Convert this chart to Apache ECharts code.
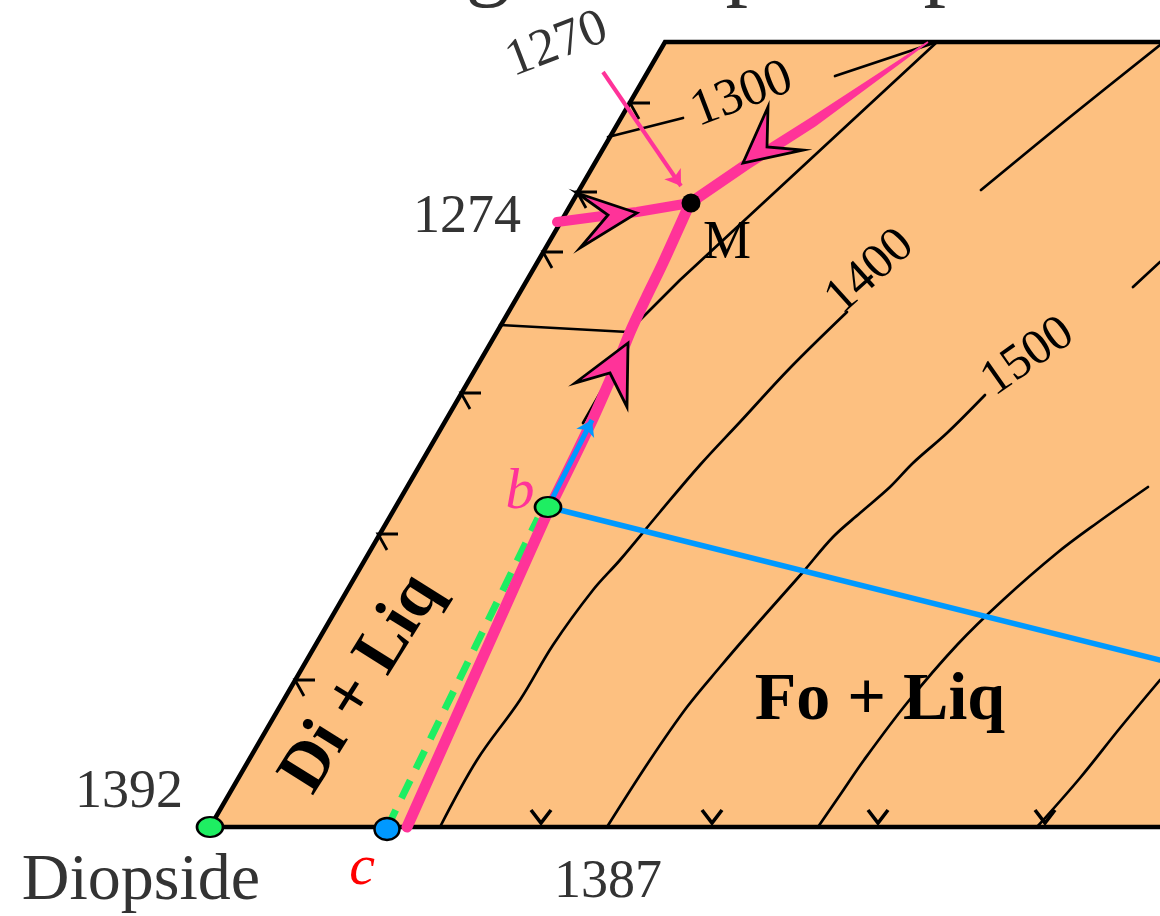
<!DOCTYPE html>
<html>
<head>
<meta charset="utf-8">
<script src="https://cdn.jsdelivr.net/npm/echarts@6/dist/echarts.min.js"></script>
<style>
html,body{margin:0;padding:0;background:#fff;}
#chart{width:1160px;height:916px;}
</style>
</head>
<body>
<div id="chart"></div>
<script>
// ---------- data (diagram coordinates) ----------
const fieldOutline = [[210,827],[665,42],[1160,42],[1160,827]];
const frameEdges   = [[1160,827],[210,827],[665,42],[1160,42]];

const iso1400a = [[440,827],[477,760],[520,700],[553,645],[593,590],[620,560],[660,512],[700,465],[740,422],[790,368],[847,312]];
const iso1400b = [[981,190],[1070,117],[1160,45]];
const iso1500a = [[607,827],[650,760],[687,707],[720,667],[750,632],[780,598],[803,572],[833,537],[860,513],[890,487],[913,463],[947,433],[985,395]];
const iso1500b = [[1133,287],[1160,262]];
const iso1600  = [[818,827],[840,795],[864,760],[907,703],[957,645],[1003,600],[1057,553],[1097,523],[1148,487]];
const iso1700  = [[1037,827],[1080,778],[1120,728],[1160,680]];
const isoFo1300 = [[937,42],[680,280],[628,332],[500,325]];
const isoAn1300a = [[608,137],[683,118]];
const isoAn1300b = [[835,76],[937,42]];
const shortTie = [[583,423],[603,388]];

const cotecticDiFoLow = [[407,827],[550,507]];
const cotecticDiFoUp  = [[550,507],[590,425],[620,357],[631,330],[646,298],[662,265],[677,232],[690,203]];
const cotecticDiAn = [[557,222],[610,215],[637,212],[690,203]];
const cotecticFoAn = [[690,203],[747,164],[813,122],[928,42]];
const foAnHalfWidth = [5.5, 5.5, 5, 0.8];

const chevrons = [
  [[637,213],[577,193],[608,215],[580,248]],
  [[628,343],[575,383],[610,373],[627,407]],
  [[743,163],[768,107],[767,147],[803,150]]
];

const tieLine = [[548,507],[1160,660]];
const greenPath = [[387,828],[538,518]];
const blueArrow = [[548,507],[592,420]];
const pointer1270 = [[603,72],[681,186]];

const leftTicks = [[630,103],[577,192],[543,252],[461,393],[378,534],[295,680]];
const bottomTicks = [[541,825],[712,825],[878,825],[1045,825]];

const pointDi = [210,827];
const pointB  = [548,507];
const pointC  = [387,829];
const pointM  = [691,203];

const labelTexts   = ['1270','1300','1274','M','1400','1500','b','c','Di + Liq','Fo + Liq','1392','Diopside','1387','g','p','p'];
const labelAnchors = [[557,45],[742,95],[467,218],[727,244],[870,272],[1028,357],[520,493],[362,869],[362,684],[880,701],[129,793],[141,882],[608,883],[488,-35],[748,-35],[946,-35]];

// ---------- styles (not data) ----------
const SERIF = '"Liberation Serif","DejaVu Serif",serif';
const PINK = '#ff3399', BLUE = '#0099ff', GREEN = '#1eee62', FILL = '#fdc080';
const labelStyles = [
  {color:'#333', fontSize:52, rotate:21},
  {color:'#000', fontSize:52, rotate:21},
  {color:'#333', fontSize:54},
  {color:'#000', fontSize:54},
  {color:'#000', fontSize:50, rotate:42},
  {color:'#000', fontSize:50, rotate:35},
  {color:PINK, fontSize:58, fontStyle:'italic'},
  {color:'#ff0000', fontSize:58, fontStyle:'italic'},
  {color:'#000', fontSize:68, fontWeight:'bold', rotate:58},
  {color:'#000', fontSize:68, fontWeight:'bold'},
  {color:'#333', fontSize:54},
  {color:'#333', fontSize:66},
  {color:'#333', fontSize:54},
  {color:'#333', fontSize:90},
  {color:'#333', fontSize:90},
  {color:'#333', fontSize:90}
];

function lineSeries(data, color, width, extra) {
  return Object.assign({
    type:'line', data:data, symbol:'none', silent:true, clip:false,
    lineStyle:{color:color, width:width, cap:'round', join:'round', opacity:1}, z:2
  }, extra || {});
}

const chart = echarts.init(document.getElementById('chart'), null, {renderer:'canvas'});

const series = [];
// field fill
series.push({
  type:'custom', silent:true, z:0, data:[0], clip:false,
  renderItem:function(params, api){
    return {type:'polygon', shape:{points: fieldOutline.map(p=>api.coord(p))}, style:{fill:FILL}};
  }
});
// isotherms
[iso1400a, iso1400b, iso1500a, iso1500b, iso1600, iso1700].forEach(d=>{
  series.push(lineSeries(d, '#000', 2.7, {z:2, smooth:0.35}));
});
[isoFo1300, isoAn1300a, isoAn1300b, shortTie].forEach(d=>{
  series.push(lineSeries(d, '#000', 2.7, {z:2}));
});
// frame
series.push(lineSeries(frameEdges, '#000', 4.5, {z:3, lineStyle:{color:'#000', width:4.5, join:'miter', opacity:1}}));
// ticks
series.push({
  type:'custom', silent:true, z:3, data:leftTicks, clip:false,
  renderItem:function(params, api){
    const p = api.coord([api.value(0), api.value(1)]);
    return {type:'polyline', shape:{points:[[p[0]+20,p[1]],[p[0],p[1]],[p[0]+9,p[1]+16]]},
      style:{stroke:'#000', lineWidth:2.8, fill:null}};
  }
});
series.push({
  type:'custom', silent:true, z:3, data:bottomTicks, clip:false,
  renderItem:function(params, api){
    const p = api.coord([api.value(0), api.value(1)]);
    return {type:'polyline', shape:{points:[[p[0]-10,p[1]-15],[p[0],p[1]-2],[p[0]+10,p[1]-15]]},
      style:{stroke:'#000', lineWidth:3.6, fill:null}};
  }
});
// blue tie line
series.push(lineSeries(tieLine, BLUE, 5.5, {z:4}));
// green dashed
series.push(lineSeries(greenPath, GREEN, 7, {z:4, lineStyle:{color:GREEN, width:7, type:[20,13], opacity:1}}));
// pink cotectics
series.push(lineSeries(cotecticDiFoLow, PINK, 11, {z:5}));
series.push(lineSeries(cotecticDiFoUp, PINK, 11, {z:5, smooth:0.3}));
series.push(lineSeries(cotecticDiAn, PINK, 10, {z:5}));
// tapered Fo-An cotectic
series.push({
  type:'custom', silent:true, z:5, data:[0], clip:false,
  renderItem:function(params, api){
    const pts = cotecticFoAn.map(p=>api.coord(p));
    const left = [], right = [];
    for (let i=0;i<pts.length;i++){
      const a = pts[Math.max(0,i-1)], b = pts[Math.min(pts.length-1,i+1)];
      let dx = b[0]-a[0], dy = b[1]-a[1]; const L = Math.hypot(dx,dy); dx/=L; dy/=L;
      const w = foAnHalfWidth[i];
      left.push([pts[i][0]-dy*w, pts[i][1]+dx*w]);
      right.push([pts[i][0]+dy*w, pts[i][1]-dx*w]);
    }
    return {type:'polygon', shape:{points:left.concat(right.reverse())}, style:{fill:PINK}};
  }
});
// chevron arrowheads
series.push({
  type:'custom', silent:true, z:6, data:chevrons.map((c,i)=>i), clip:false,
  renderItem:function(params, api){
    const pts = chevrons[params.dataIndex].map(p=>api.coord(p));
    return {type:'polygon', shape:{points:pts}, style:{fill:PINK, stroke:'#000', lineWidth:2.8, lineJoin:'miter'}};
  }
});
// arrows (blue and 1270 pointer)
series.push({
  type:'lines', coordinateSystem:'cartesian2d', silent:true, z:6,
  symbol:['none','arrow'], symbolSize:15,
  lineStyle:{color:BLUE, width:5, opacity:1, curveness:0},
  data:[{coords:blueArrow}]
});
series.push({
  type:'lines', coordinateSystem:'cartesian2d', silent:true, z:6,
  symbol:['none','arrow'], symbolSize:15,
  lineStyle:{color:PINK, width:4, opacity:1, curveness:0},
  data:[{coords:pointer1270}]
});
// points
series.push({type:'scatter', silent:true, z:8, clip:false, symbol:'circle', symbolSize:[26,20],
  itemStyle:{color:GREEN, borderColor:'#000', borderWidth:2.4, opacity:1}, data:[pointDi, pointB]});
series.push({type:'scatter', silent:true, z:8, clip:false, symbol:'circle', symbolSize:[25,22],
  itemStyle:{color:BLUE, borderColor:'#000', borderWidth:2.4, opacity:1}, data:[pointC]});
series.push({type:'scatter', silent:true, z:8, clip:false, symbol:'circle', symbolSize:19,
  itemStyle:{color:'#000', opacity:1}, data:[pointM]});
// labels
series.push({
  type:'scatter', silent:true, z:10, clip:false, symbolSize:0,
  itemStyle:{opacity:1},
  data: labelTexts.map((t,i)=>{
    const s = labelStyles[i];
    return {value:labelAnchors[i], label:{
      show:true, position:'inside', formatter:t, align:'center', verticalAlign:'middle',
      fontFamily:SERIF, fontSize:s.fontSize, color:s.color, rotate:s.rotate||0,
      fontWeight:s.fontWeight||'normal', fontStyle:s.fontStyle||'normal', opacity:1
    }};
  })
});

chart.setOption({
  animation:false,
  backgroundColor:'#ffffff',
  grid:{left:0, right:0, top:0, bottom:0, containLabel:false},
  xAxis:{type:'value', min:0, max:1160, show:false},
  yAxis:{type:'value', min:0, max:916, inverse:true, show:false},
  series:series
});
</script>
</body>
</html>
